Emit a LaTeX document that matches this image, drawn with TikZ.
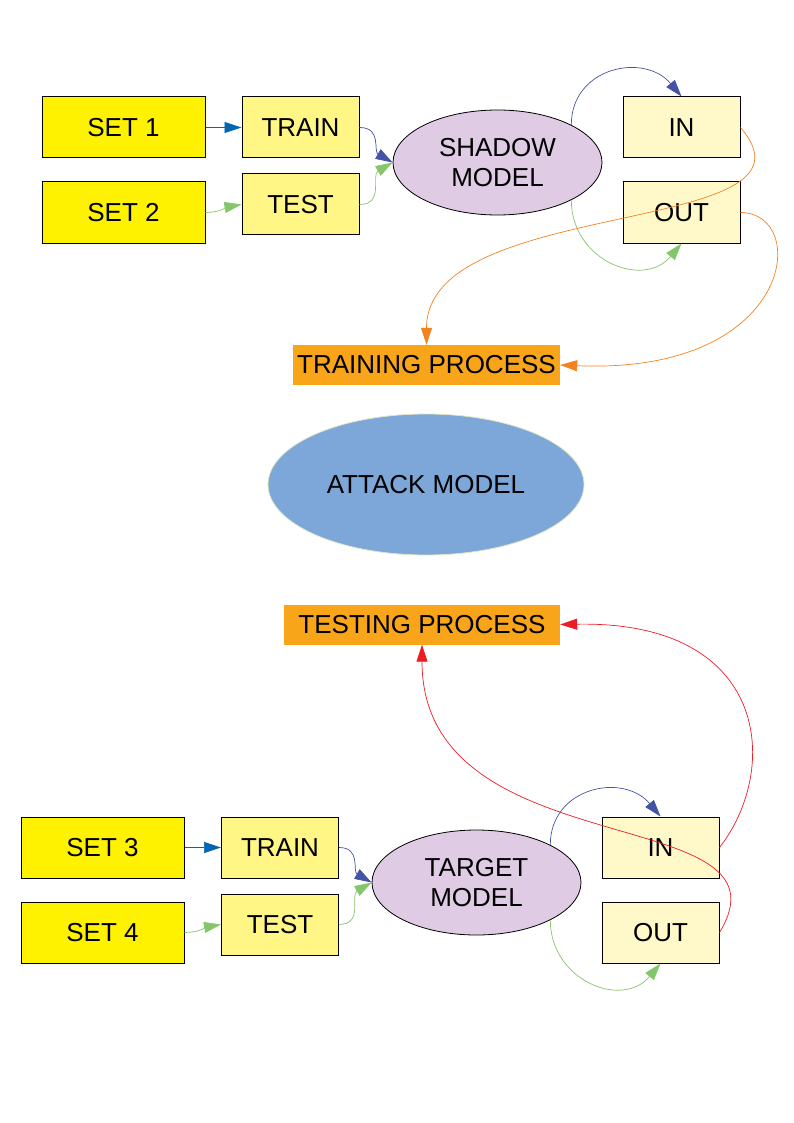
\documentclass[tikz,border=0pt]{standalone}
\usepackage{fontspec}
\setmainfont{Liberation Sans}
\usepackage{tikz}
\usepackage{xcolor}
\usetikzlibrary{shapes.geometric,arrows.meta}
\definecolor{setyellow}{HTML}{FFF200}
\definecolor{trainyellow}{HTML}{FFF685}
\definecolor{inyellow}{HTML}{FFF9CA}
\definecolor{lavender}{HTML}{DFCCE4}
\definecolor{procorange}{HTML}{F9A51A}
\definecolor{attackblue}{HTML}{7CA7D8}
\definecolor{attackedge}{HTML}{E2E6C4}
\definecolor{arrowblue}{HTML}{0066B3}
\definecolor{arrowpurple}{HTML}{4453A5}
\definecolor{arrowgreen}{HTML}{84C66A}
\definecolor{arroworange}{HTML}{F58220}
\definecolor{arrowred}{HTML}{ED1C24}

\begin{document}
\begin{tikzpicture}[x=1pt,y=-1pt,font=\fontsize{26}{29.5}\selectfont]
	\tikzstyle{setbox} = [rectangle,draw = black,line width=1pt,fill=setyellow,minimum width=163pt,minimum height=61pt,inner sep=0pt]
\tikzstyle{trbox} = [setbox,fill=trainyellow,minimum width=117pt]
\tikzstyle{inbox} = [setbox,fill=inyellow,minimum width=117pt]
\tikzstyle{model} = [ellipse,draw = black,line width=0.8pt,fill=lavender,minimum width=209pt,minimum height=105pt,inner sep=0pt,align=center]
\tikzstyle{proc} = [rectangle,fill=procorange,minimum height=40pt,inner sep=0pt]
\tikzstyle{line} = [line width=0.7pt,-{Triangle[length=17pt,width=11pt]}]
\useasboundingbox (0,0) rectangle (794,1123);
\node(s1)[setbox] at (123.5,127.5) {SET 1};
\node(s2)[setbox] at (123.5,212.5) {SET 2};
\node(tr1)[trbox] at (300.5,127.5) {TRAIN};
\node(te1)[trbox] at (300.5,204.5) {TEST};
\node(sh)[model] at (497.5,162.5) {SHADOW\\MODEL};
\node(in1)[inbox] at (681.5,127.5) {IN};
\node(out1)[inbox] at (681.5,212.5) {OUT};
\node(tp)[proc,minimum width=267pt] at (426.5,365) {TRAINING PROCESS};
\node(am)[ellipse,draw = attackedge,line width=0.8pt,fill=attackblue,minimum width=316pt,minimum height=141pt,inner sep=0pt] at (426,484.5) {ATTACK MODEL};
\node(tq)[proc,minimum width=276pt] at (422,624.5) {TESTING PROCESS};
\node(s3)[setbox] at (102.5,847.5) {SET 3};
\node(s4)[setbox] at (102.5,932.5) {SET 4};
\node(tr2)[trbox] at (280,847.5) {TRAIN};
\node(te2)[trbox] at (280,924.5) {TEST};
\node(tg)[model] at (476.5,882.5) {TARGET\\MODEL};
\node(in2)[inbox] at (660.5,847.5) {IN};
\node(out2)[inbox] at (660.5,932.5) {OUT};
\draw[line,arrowblue] (s1) --(tr1);
\draw[line,arrowgreen] (s2.east) to[out=0,in=190] (te1.west);
\draw[line,arrowpurple] (tr1.east) to[out=0,in=150,looseness=1.2] (sh.west);
\draw[line,arrowgreen] (te1.east) to[out=0,in=-150,looseness=1.2] (sh.west);
\draw[line,arrowpurple] (sh.27) to[out=90,in=130,looseness=1.3] (in1.north);
\draw[line,arrowgreen] (sh.-27) to[out=-90,in=-130,looseness=1.3] (out1.south);
\draw[line,arroworange] (in1.east) .. controls +(95,110) and +(0,-150) .. (tp.north);
\draw[line,arroworange] (out1.east) .. controls +(70,0) and +(235,10) .. (tp.east);
\draw[line,arrowblue] (s3) --(tr2);
\draw[line,arrowgreen] (s4.east) to[out=0,in=190] (te2.west);
\draw[line,arrowpurple] (tr2.east) to[out=0,in=150,looseness=1.2] (tg.west);
\draw[line,arrowgreen] (te2.east) to[out=0,in=-150,looseness=1.2] (tg.west);
\draw[line,arrowpurple] (tg.27) to[out=90,in=130,looseness=1.3] (in2.north);
\draw[line,arrowgreen] (tg.-27) to[out=-90,in=-130,looseness=1.3] (out2.south);
\draw[line,arrowred] (in2.east) .. controls +(61,-78) and +(210,-4) .. (tq.east);
\draw[line,arrowred] (out2.east) .. controls +(81,-133) and +(0,225) .. (tq.south);
  \end{tikzpicture}
\end{document}
